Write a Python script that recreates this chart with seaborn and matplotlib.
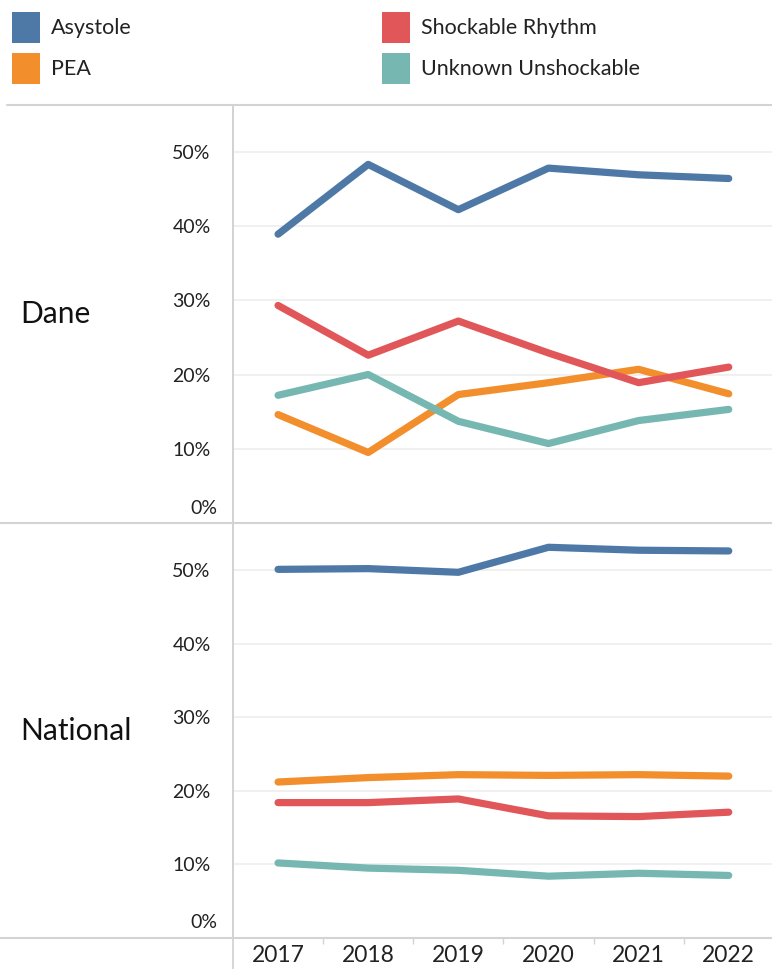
import pandas as pd
import matplotlib.pyplot as plt
import seaborn as sns
from matplotlib.lines import Line2D
from matplotlib.patches import Patch
from matplotlib.ticker import FuncFormatter

sns.set_theme(style="white")
plt.rcParams['font.family'] = ['Lato', 'DejaVu Sans']

# Data (share of cases by rhythm)
years = [2017, 2018, 2019, 2020, 2021, 2022]
rhythms = ["Asystole", "PEA", "Shockable Rhythm", "Unknown Unshockable"]
colors = ["#4e79a7", "#f28e2b", "#e15759", "#76b7b2"]

dane_asystole = [0.389, 0.483, 0.422, 0.478, 0.469, 0.464]
dane_pea = [0.146, 0.095, 0.173, 0.189, 0.207, 0.174]
dane_shockable = [0.293, 0.226, 0.272, 0.229, 0.189, 0.210]
dane_unknown = [0.172, 0.200, 0.137, 0.107, 0.138, 0.153]

natl_asystole = [0.501, 0.502, 0.497, 0.531, 0.527, 0.526]
natl_pea = [0.212, 0.218, 0.222, 0.221, 0.222, 0.220]
natl_shockable = [0.184, 0.184, 0.189, 0.166, 0.165, 0.171]
natl_unknown = [0.102, 0.095, 0.092, 0.084, 0.088, 0.085]

panels = {
    "Dane": [dane_asystole, dane_pea, dane_shockable, dane_unknown],
    "National": [natl_asystole, natl_pea, natl_shockable, natl_unknown],
}

def to_long(series_list):
    rows = []
    for name, vals in zip(rhythms, series_list):
        for y, v in zip(years, vals):
            rows.append({"Year": y, "Rhythm": name, "Share": v})
    return pd.DataFrame(rows)

# 0% is drawn separately (Tableau keeps it inside the pane)
pct = FuncFormatter(lambda v, _: "" if abs(v) < 1e-9 else f"{v * 100:.0f}%")

palette = dict(zip(rhythms, colors))
grid_c = "#eeeeee"
line_c = "#d3d3d3"
text_c = "#222222"

fig = plt.figure(figsize=(7.72, 9.69), dpi=100)
H = 969.0
L = 233 / 772

# (top px, bottom px, ylim top)
layout = {"Dane": (105, 523, 0.563), "National": (523, 938, 0.564)}

for name, series_list in panels.items():
    top, bot, ymax = layout[name]
    ax = fig.add_axes([L, 1 - bot / H, 1 - L, (bot - top) / H])
    sns.lineplot(data=to_long(series_list), x="Year", y="Share", hue="Rhythm",
                 palette=palette, linewidth=5.2, legend=False, ax=ax,
                 solid_capstyle="round", solid_joinstyle="round")
    ax.set_xlim(2016.5, 2022.48)
    ax.set_ylim(0, ymax)
    ax.set_yticks([0, 0.1, 0.2, 0.3, 0.4, 0.5])
    ax.yaxis.set_major_formatter(pct)
    ax.grid(axis="y", color=grid_c, linewidth=1.2)
    ax.set_axisbelow(True)
    for s in ["top", "right", "bottom"]:
        ax.spines[s].set_visible(False)
    ax.spines["left"].set_color(line_c)
    ax.spines["left"].set_linewidth(1.3)
    ax.tick_params(axis="y", length=11, color=grid_c, width=1.2,
                   labelsize=14, labelcolor=text_c, pad=5)
    ax.set_xlabel("")
    ax.set_ylabel("")
    ax.annotate("0%", xy=(0, 0), xycoords=("axes fraction", "data"),
                xytext=(-16, 15), textcoords="offset pixels", ha="right",
                va="center", fontsize=14, color=text_c)
    fig.text(20 / 772, 1 - (top + bot) / 2 / H, name, fontsize=21.5,
             color="#111111", ha="left", va="center")
    if name == "National":
        ax.set_xticks(years)
        ax.set_xticks([y + 0.5 for y in years[:-1]], minor=True)
        ax.tick_params(axis="x", which="major", length=0, labelsize=16.5,
                       labelcolor="#222222", pad=5)
        ax.tick_params(axis="x", which="minor", length=4, color=line_c,
                       bottom=True)
    else:
        ax.set_xticks([])

# pane separators
for y_px, x0 in [(105, 7 / 772), (523, 0), (938, 0)]:
    fig.add_artist(Line2D([x0, 1], [1 - y_px / H] * 2, color=line_c,
                          linewidth=1.5))
fig.add_artist(Line2D([L, L], [0, 1 - 105 / H], color=line_c, linewidth=1.3))

handles = [Patch(facecolor=c, edgecolor="none") for c in colors]
fig.legend(handles, rhythms, ncol=2, loc="upper left",
           bbox_to_anchor=(0.0, 1.0), frameon=False, fontsize=15.5,
           handlelength=1.3, handleheight=1.86, handletextpad=0.5,
           labelspacing=0.45, columnspacing=11.65, borderaxespad=0.15,
           labelcolor=text_c)

plt.savefig("out.png", dpi=100)
